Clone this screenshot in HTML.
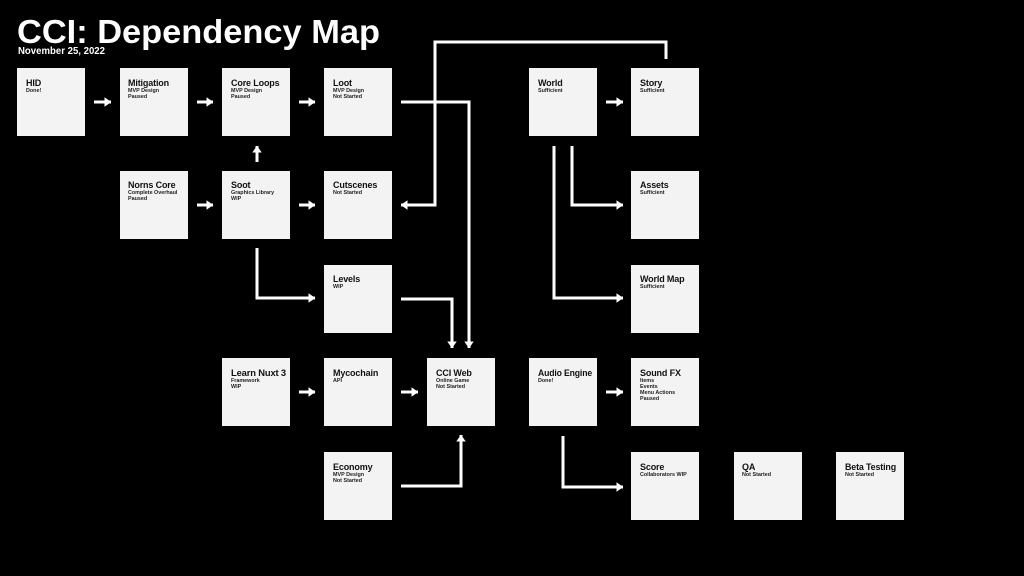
<!DOCTYPE html>
<html><head><meta charset="utf-8"><style>
html,body{margin:0;padding:0;background:#000;width:1024px;height:576px;overflow:hidden}
svg{display:block}
text{font-family:"Liberation Sans",Arial,sans-serif;font-weight:bold}
.t{font-size:9px;fill:#111;letter-spacing:-0.15px}
.s{font-size:5.4px;fill:#222}
rect{fill:#f3f3f3}
.l{stroke:#fff;stroke-width:3;fill:none}
</style></head><body>
<svg width="1024" height="576" viewBox="0 0 1024 576" xmlns="http://www.w3.org/2000/svg">
<defs><marker id="a" markerWidth="4" markerHeight="4" refX="2.2" refY="1.6" orient="auto" markerUnits="strokeWidth"><path d="M0,0 L2.3,1.6 L0,3.2 Z" fill="#fff"/></marker></defs>
<text x="17" y="43" font-size="33" fill="#fff" textLength="363" lengthAdjust="spacingAndGlyphs">CCI: Dependency Map</text>
<text x="18" y="54" font-size="10" fill="#fff" textLength="87" lengthAdjust="spacingAndGlyphs">November 25, 2022</text>

<g>
<rect x="17" y="68" width="68" height="68"/><text class="t" x="26" y="86">HID</text><text class="s" x="26" y="92">Done!</text>
<rect x="120" y="68" width="68" height="68"/><text class="t" x="128" y="86">Mitigation</text><text class="s" x="128" y="92">MVP Design</text><text class="s" x="128" y="98">Paused</text>
<rect x="222" y="68" width="68" height="68"/><text class="t" x="231" y="86">Core Loops</text><text class="s" x="231" y="92">MVP Design</text><text class="s" x="231" y="98">Paused</text>
<rect x="324" y="68" width="68" height="68"/><text class="t" x="333" y="86">Loot</text><text class="s" x="333" y="92">MVP Design</text><text class="s" x="333" y="98">Not Started</text>
<rect x="529" y="68" width="68" height="68"/><text class="t" x="538" y="86">World</text><text class="s" x="538" y="92">Sufficient</text>
<rect x="631" y="68" width="68" height="68"/><text class="t" x="640" y="86">Story</text><text class="s" x="640" y="92">Sufficient</text>

<rect x="120" y="171" width="68" height="68"/><text class="t" x="128" y="188">Norns Core</text><text class="s" x="128" y="194">Complete Overhaul</text><text class="s" x="128" y="200">Paused</text>
<rect x="222" y="171" width="68" height="68"/><text class="t" x="231" y="188">Soot</text><text class="s" x="231" y="194">Graphics Library</text><text class="s" x="231" y="200">WIP</text>
<rect x="324" y="171" width="68" height="68"/><text class="t" x="333" y="188">Cutscenes</text><text class="s" x="333" y="194">Not Started</text>
<rect x="631" y="171" width="68" height="68"/><text class="t" x="640" y="188">Assets</text><text class="s" x="640" y="194">Sufficient</text>

<rect x="324" y="265" width="68" height="68"/><text class="t" x="333" y="282">Levels</text><text class="s" x="333" y="288">WIP</text>
<rect x="631" y="265" width="68" height="68"/><text class="t" x="640" y="282">World Map</text><text class="s" x="640" y="288">Sufficient</text>

<rect x="222" y="358" width="68" height="68"/><text class="t" x="231" y="376" textLength="55" lengthAdjust="spacingAndGlyphs">Learn Nuxt 3</text><text class="s" x="231" y="382">Framework</text><text class="s" x="231" y="388">WIP</text>
<rect x="324" y="358" width="68" height="68"/><text class="t" x="333" y="376">Mycochain</text><text class="s" x="333" y="382">API</text>
<rect x="427" y="358" width="68" height="68"/><text class="t" x="436" y="376">CCI Web</text><text class="s" x="436" y="382">Online Game</text><text class="s" x="436" y="388">Not Started</text>
<rect x="529" y="358" width="68" height="68"/><text class="t" x="538" y="376" textLength="54" lengthAdjust="spacingAndGlyphs">Audio Engine</text><text class="s" x="538" y="382">Done!</text>
<rect x="631" y="358" width="68" height="68"/><text class="t" x="640" y="376">Sound FX</text><text class="s" x="640" y="382">Items</text><text class="s" x="640" y="388">Events</text><text class="s" x="640" y="394">Menu Actions</text><text class="s" x="640" y="400">Paused</text>

<rect x="324" y="452" width="68" height="68"/><text class="t" x="333" y="470">Economy</text><text class="s" x="333" y="476">MVP Design</text><text class="s" x="333" y="482">Not Started</text>
<rect x="631" y="452" width="68" height="68"/><text class="t" x="640" y="470">Score</text><text class="s" x="640" y="476">Collaborators WIP</text>
<rect x="734" y="452" width="68" height="68"/><text class="t" x="742" y="470">QA</text><text class="s" x="742" y="476">Not Started</text>
<rect x="836" y="452" width="68" height="68"/><text class="t" x="845" y="470" textLength="51" lengthAdjust="spacingAndGlyphs">Beta Testing</text><text class="s" x="845" y="476">Not Started</text>
</g>

<g class="l" marker-end="url(#a)">
<path d="M94 102 H111"/>
<path d="M197 102 H213"/>
<path d="M299 102 H315"/>
<path d="M606 102 H623"/>
<path d="M197 205 H213"/>
<path d="M299 205 H315"/>
<path d="M257 162 V146"/>
<path d="M299 392 H315"/>
<path d="M401 392 H418"/>
<path d="M606 392 H623"/>
<path d="M257 248 V298 H315"/>
<path d="M401 299 H452 V348"/>
<path d="M401 102 H469 V348"/>
<path d="M666 59 V42 H435 V205 H401"/>
<path d="M554 146 V298 H623"/>
<path d="M572 146 V205 H623"/>
<path d="M401 486 H461 V435"/>
<path d="M563 436 V487 H623"/>
</g>
</svg>
</body></html>
